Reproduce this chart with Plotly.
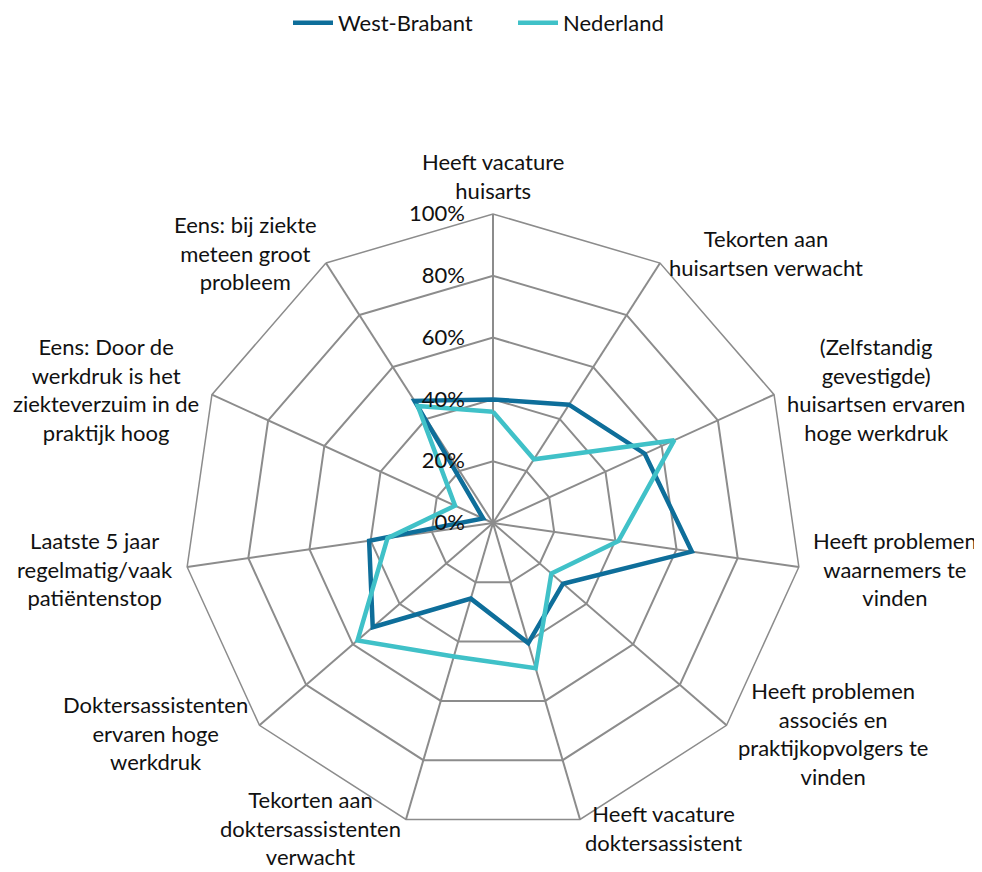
import math
import plotly.graph_objects as go

categories = [
    "Heeft vacature<br>huisarts",
    "Tekorten aan<br>huisartsen verwacht",
    "(Zelfstandig<br>gevestigde)<br>huisartsen ervaren<br>hoge werkdruk",
    "Heeft problemen<br>waarnemers te<br>vinden",
    "Heeft problemen<br>associés en<br>praktijkopvolgers te<br>vinden",
    "Heeft vacature<br>doktersassistent",
    "Tekorten aan<br>doktersassistenten<br>verwacht",
    "Doktersassistenten<br>ervaren hoge<br>werkdruk",
    "Laatste 5 jaar<br>regelmatig/vaak<br>patiëntenstop",
    "Eens: Door de<br>werkdruk is het<br>ziekteverzuim in de<br>praktijk hoog",
    "Eens: bij ziekte<br>meteen groot<br>probleem",
]
west_brabant = [0.40, 0.455, 0.54, 0.65, 0.30, 0.405, 0.255, 0.515, 0.405, 0.035, 0.47]
nederland = [0.36, 0.245, 0.645, 0.41, 0.25, 0.49, 0.45, 0.58, 0.345, 0.135, 0.45]
radial_ticks = [0, 0.2, 0.4, 0.6, 0.8, 1.0]

W, H = 982, 872
FONT = "Lato"
FS = 22
GRID = "#8c8c8c"
TXT = "#111111"

# page offset (body margin) compensation
OFF = 8
cx, cy, R = 493 - OFF, 523 - OFF, 309
dom_x = [(cx - R) / W, (cx + R) / W]
dom_y = [(H - cy - R) / H, (H - cy + R) / H]

keys = [f"c{i}" for i in range(len(categories))]

fig = go.Figure()
for name, vals, col in [("West-Brabant", west_brabant, "#0E6E9A"),
                        ("Nederland", nederland, "#40C1C8")]:
    fig.add_trace(go.Scatterpolar(
        r=vals + vals[:1], theta=keys + keys[:1], mode="lines", name=name,
        line=dict(color=col, width=4.5), hoverinfo="skip"))

fig.update_layout(
    width=W, height=H,
    margin=dict(l=0, r=0, t=0, b=0, autoexpand=False),
    paper_bgcolor="white",
    font=dict(family=FONT, size=FS, color=TXT),
    showlegend=True,
    legend=dict(orientation="h", x=(513 - OFF) / W, xanchor="center", y=1 - (23 - OFF) / H,
                yanchor="middle", font=dict(family=FONT, size=FS, color=TXT),
                entrywidth=170, entrywidthmode="pixels", itemwidth=40),
    polar=dict(
        domain=dict(x=dom_x, y=dom_y),
        bgcolor="rgba(0,0,0,0)",
        gridshape="linear",
        angularaxis=dict(type="category", categoryarray=keys, direction="clockwise", rotation=90,
                         showticklabels=False, ticks="", showgrid=True, gridcolor=GRID, gridwidth=1.5,
                         showline=True, linecolor=GRID, linewidth=1.5),
        radialaxis=dict(range=[0, 1], tickvals=radial_ticks, tickformat=".0%", angle=90, tickangle=90,
                        side="counterclockwise", showline=False, ticks="outside", ticklen=20,
                        tickcolor="rgba(0,0,0,0)", gridcolor=GRID, gridwidth=1.5,
                        tickfont=dict(family=FONT, size=FS, color=TXT)),
    ),
)

n = len(categories)
for i, lab in enumerate(categories):
    th = 2 * math.pi * i / n
    s, c = math.sin(th), math.cos(th)
    rr = R + 12
    px = cx + rr * s
    py = cy - rr * c
    if abs(s) < 0.1:
        xa, ya = "center", "bottom"
        py += 4
    else:
        xa = "left" if s > 0 else "right"
        ya = "middle"
        if c < -0.9:
            py -= 3
    fig.add_annotation(x=px / W, y=1 - py / H, xref="paper", yref="paper", text=lab,
                       showarrow=False, xanchor=xa, yanchor=ya, align="center",
                       font=dict(family=FONT, size=FS, color=TXT))

fig.write_html("out.html")
